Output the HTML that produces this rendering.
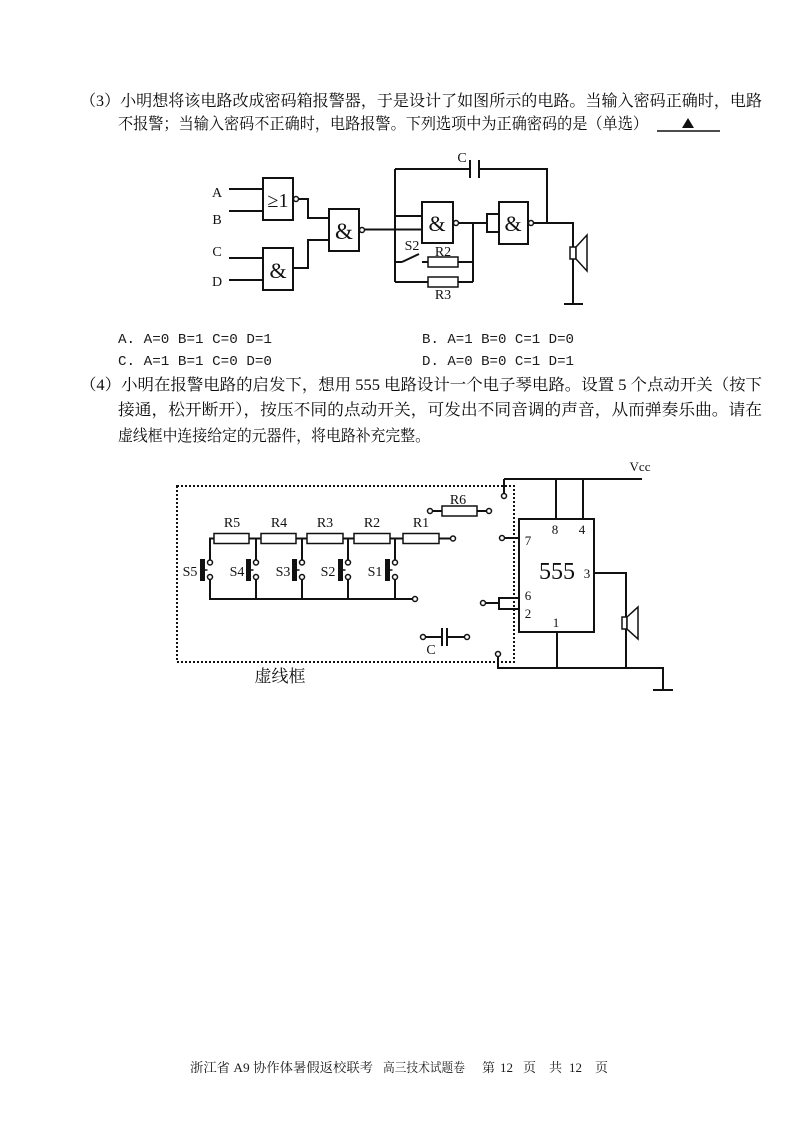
<!DOCTYPE html>
<html><head><meta charset="utf-8">
<style>
html,body{margin:0;padding:0;background:#fff;}
svg{display:block;}
.cn{font-family:"Liberation Serif","Noto Serif CJK SC",serif;font-size:15.8px;fill:#0a0a0a;}
.lb{font-family:"Liberation Serif","Noto Serif CJK SC",serif;font-size:14px;fill:#111;}
.op{font-family:"Liberation Mono",monospace;font-size:14px;fill:#1a1a1a;}
.ft{font-family:"Liberation Serif","Noto Serif CJK SC",serif;font-size:13px;fill:#1a1a1a;}
.w{stroke:#111;stroke-width:2;fill:none;}
.g{stroke:#111;stroke-width:2;fill:#fff;}
.c{stroke:#111;stroke-width:1.5;fill:#fff;}
</style></head><body>
<svg width="800" height="1130" viewBox="0 0 800 1130" xmlns="http://www.w3.org/2000/svg">
<!-- Section 3 text -->
<text class="cn" x="80" y="106" textLength="682" lengthAdjust="spacingAndGlyphs">（3）小明想将该电路改成密码箱报警器，于是设计了如图所示的电路。当输入密码正确时，电路</text>
<text class="cn" x="118" y="129" textLength="530" lengthAdjust="spacingAndGlyphs">不报警；当输入密码不正确时，电路报警。下列选项中为正确密码的是（单选）</text>
<line x1="657" y1="131" x2="720" y2="131" stroke="#111" stroke-width="1.5"/>
<polygon points="682,128 694,128 688,118" fill="#111"/>

<!-- Logic circuit -->
<g class="lb">
<text x="217" y="197" text-anchor="middle">A</text>
<text x="217" y="224" text-anchor="middle">B</text>
<text x="217" y="256" text-anchor="middle">C</text>
<text x="217" y="286" text-anchor="middle">D</text>
</g>
<path class="w" d="M229 189H263 M229 211H263 M229 258H263 M229 280H263"/>
<rect class="g" x="263" y="178" width="30" height="42"/>
<text x="278" y="207" text-anchor="middle" font-family="Liberation Serif,serif" font-size="20" fill="#111">≥1</text>
<circle class="c" cx="296" cy="199" r="2.5"/>
<path class="w" d="M298.5 199H308V218H329"/>
<rect class="g" x="263" y="248" width="30" height="42"/>
<text x="278" y="278" text-anchor="middle" font-family="Liberation Serif,serif" font-size="22" fill="#111">&amp;</text>
<path class="w" d="M293 268H308V240H329"/>
<rect class="g" x="329" y="209" width="30" height="42"/>
<text x="344" y="239" text-anchor="middle" font-family="Liberation Serif,serif" font-size="23" fill="#111">&amp;</text>
<circle class="c" cx="362" cy="230" r="2.5"/>
<path class="w" d="M364.5 229.5H422"/>
<!-- oscillator -->
<path class="w" d="M395 169V282 M395 169H470 M479 169H547V223 M395 216H422"/>
<line x1="470" y1="160" x2="470" y2="178" stroke="#111" stroke-width="2"/>
<line x1="479" y1="160" x2="479" y2="178" stroke="#111" stroke-width="2"/>
<text class="lb" x="462" y="162" text-anchor="middle">C</text>
<rect class="g" x="422" y="202" width="31" height="41"/>
<text x="437" y="231" text-anchor="middle" font-family="Liberation Serif,serif" font-size="22" fill="#111">&amp;</text>
<circle class="c" cx="456" cy="223" r="2.5"/>
<path class="w" d="M458.5 223H487 M473 223V282 M499 214H487V232H499"/>
<rect class="g" x="499" y="202" width="29" height="42"/>
<text x="513" y="231" text-anchor="middle" font-family="Liberation Serif,serif" font-size="22" fill="#111">&amp;</text>
<circle class="c" cx="531" cy="223" r="2.5"/>
<path class="w" d="M533.5 223H573V304 M564 304H583"/>
<rect class="c" x="570" y="247" width="6" height="12" stroke-width="2"/>
<polygon points="576,247 587,235 587,271 576,259" fill="#fff" stroke="#111" stroke-width="1.5"/>
<!-- S2, R2, R3 -->
<path class="w" d="M395 262H402 M402 262L419 254 M422 262H428 M458 262H473 M395 282H428 M458 282H473"/>
<rect class="c" x="428" y="257" width="30" height="10"/>
<rect class="c" x="428" y="277" width="30" height="10"/>
<text class="lb" x="412" y="250" text-anchor="middle">S2</text>
<text class="lb" x="443" y="256" text-anchor="middle">R2</text>
<text class="lb" x="443" y="299" text-anchor="middle">R3</text>

<!-- Options -->
<text class="op" x="118" y="343" textLength="154" lengthAdjust="spacingAndGlyphs">A. A=0 B=1 C=0 D=1</text>
<text class="op" x="422" y="343" textLength="152" lengthAdjust="spacingAndGlyphs">B. A=1 B=0 C=1 D=0</text>
<text class="op" x="118" y="365" textLength="154" lengthAdjust="spacingAndGlyphs">C. A=1 B=1 C=0 D=0</text>
<text class="op" x="422" y="365" textLength="152" lengthAdjust="spacingAndGlyphs">D. A=0 B=0 C=1 D=1</text>

<!-- Section 4 text -->
<text class="cn" x="80" y="390" textLength="682" lengthAdjust="spacingAndGlyphs">（4）小明在报警电路的启发下，想用 555 电路设计一个电子琴电路。设置 5 个点动开关（按下</text>
<text class="cn" x="118" y="415" textLength="644" lengthAdjust="spacingAndGlyphs">接通，松开断开），按压不同的点动开关，可发出不同音调的声音，从而弹奏乐曲。请在</text>
<text class="cn" x="118" y="441" textLength="312" lengthAdjust="spacingAndGlyphs">虚线框中连接给定的元器件，将电路补充完整。</text>

<!-- 555 circuit -->
<rect x="177" y="486" width="337" height="176" fill="none" stroke="#111" stroke-width="2" stroke-dasharray="2,2"/>
<text x="640" y="471" text-anchor="middle" font-family="Liberation Serif,serif" font-size="13" fill="#111">Vcc</text>
<path class="w" d="M504 479H642 M504 479V493.5 M556 479V519 M583 479V519"/>
<circle class="c" cx="504" cy="496" r="2.5"/>
<rect class="g" x="519" y="519" width="75" height="113"/>
<g font-family="Liberation Serif,serif" font-size="13" fill="#111" text-anchor="middle">
<text x="555" y="534">8</text>
<text x="582" y="534">4</text>
<text x="528" y="545">7</text>
<text x="528" y="600">6</text>
<text x="528" y="618">2</text>
<text x="587" y="578">3</text>
<text x="556" y="627">1</text>
</g>
<text x="557" y="579" text-anchor="middle" font-family="Liberation Serif,serif" font-size="24" fill="#111">555</text>
<circle class="c" cx="502" cy="538" r="2.5"/>
<path class="w" d="M504.5 538H519 M519 598H499V609H519 M485.5 603H499"/>
<circle class="c" cx="483" cy="603" r="2.5"/>
<path class="w" d="M594 573H626V668 M557 632V668 M498 656.5V668H663V690 M653 690H673"/>
<circle class="c" cx="498" cy="654" r="2.5"/>
<rect class="c" x="622" y="617" width="5" height="12" stroke-width="2"/>
<polygon points="627,617 638,607 638,639 627,629" fill="#fff" stroke="#111" stroke-width="1.5"/>
<!-- R6 -->
<circle class="c" cx="430" cy="511" r="2.5"/>
<path class="w" d="M432.5 511H442 M477 511H486.5"/>
<rect class="c" x="442" y="506" width="35" height="10"/>
<circle class="c" cx="489" cy="511" r="2.5"/>
<text class="lb" x="458" y="504" text-anchor="middle">R6</text>
<!-- resistor chain -->
<path class="w" d="M209 538.5H403 M439 538.5H450.5"/>
<rect class="c" x="214" y="533.5" width="35" height="10"/>
<rect class="c" x="261" y="533.5" width="35" height="10"/>
<rect class="c" x="307" y="533.5" width="36" height="10"/>
<rect class="c" x="354" y="533.5" width="36" height="10"/>
<rect class="c" x="403" y="533.5" width="36" height="10"/>
<circle class="c" cx="453" cy="538.5" r="2.5"/>
<g class="lb" text-anchor="middle">
<text x="232" y="527">R5</text>
<text x="279" y="527">R4</text>
<text x="325" y="527">R3</text>
<text x="372" y="527">R2</text>
<text x="421" y="527">R1</text>
</g>
<!-- switches -->
<g>
<path class="w" d="M210 538.5V560 M210 579.5V599 M256 538.5V560 M256 579.5V599 M302 538.5V560 M302 579.5V599 M348 538.5V560 M348 579.5V599 M395 538.5V560 M395 579.5V599 M209 599H412.5"/>
<circle class="c" cx="210" cy="562.5" r="2.5"/><circle class="c" cx="210" cy="577" r="2.5"/>
<circle class="c" cx="256" cy="562.5" r="2.5"/><circle class="c" cx="256" cy="577" r="2.5"/>
<circle class="c" cx="302" cy="562.5" r="2.5"/><circle class="c" cx="302" cy="577" r="2.5"/>
<circle class="c" cx="348" cy="562.5" r="2.5"/><circle class="c" cx="348" cy="577" r="2.5"/>
<circle class="c" cx="395" cy="562.5" r="2.5"/><circle class="c" cx="395" cy="577" r="2.5"/>
<circle class="c" cx="415" cy="599" r="2.5"/>
<rect x="200" y="559" width="5" height="22" fill="#111"/><line x1="205" y1="570" x2="207.5" y2="570" stroke="#111" stroke-width="1.5"/>
<rect x="246" y="559" width="5" height="22" fill="#111"/><line x1="251" y1="570" x2="253.5" y2="570" stroke="#111" stroke-width="1.5"/>
<rect x="292" y="559" width="5" height="22" fill="#111"/><line x1="297" y1="570" x2="299.5" y2="570" stroke="#111" stroke-width="1.5"/>
<rect x="338" y="559" width="5" height="22" fill="#111"/><line x1="343" y1="570" x2="345.5" y2="570" stroke="#111" stroke-width="1.5"/>
<rect x="385" y="559" width="5" height="22" fill="#111"/><line x1="390" y1="570" x2="392.5" y2="570" stroke="#111" stroke-width="1.5"/>
</g>
<g class="lb" text-anchor="middle">
<text x="190" y="576">S5</text>
<text x="237" y="576">S4</text>
<text x="283" y="576">S3</text>
<text x="328" y="576">S2</text>
<text x="375" y="576">S1</text>
</g>
<!-- C -->
<circle class="c" cx="423" cy="637" r="2.5"/>
<path class="w" d="M425.5 637H442 M447 637H464.5 M442 628V646 M447 628V646"/>
<circle class="c" cx="467" cy="637" r="2.5"/>
<text class="lb" x="431" y="654" text-anchor="middle">C</text>
<text x="280" y="682" text-anchor="middle" font-family="Liberation Serif,'Noto Serif CJK SC',serif" font-size="17" fill="#111">虚线框</text>

<!-- Footer -->
<text class="ft" x="190" y="1072" textLength="183" lengthAdjust="spacingAndGlyphs">浙江省 A9 协作体暑假返校联考</text>
<text class="ft" x="383" y="1072" textLength="82" lengthAdjust="spacingAndGlyphs">高三技术试题卷</text>
<text class="ft" x="482" y="1072">第</text>
<text class="ft" x="500" y="1072">12</text>
<text class="ft" x="523" y="1072">页</text>
<text class="ft" x="549" y="1072">共</text>
<text class="ft" x="569" y="1072">12</text>
<text class="ft" x="595" y="1072">页</text>
</svg>
</body></html>
